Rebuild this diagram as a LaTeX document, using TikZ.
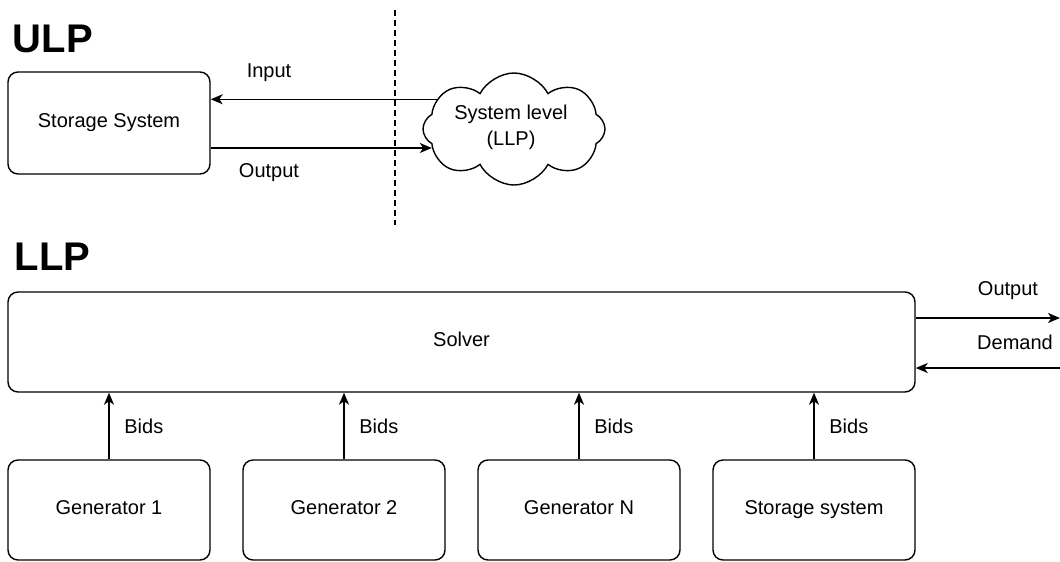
\documentclass[tikz,border=0pt]{standalone}
\usepackage{fontspec}
\setmainfont{Liberation Sans}
\usetikzlibrary{shapes.symbols,arrows.meta}
\begin{document}
\begin{tikzpicture}[x=0.75pt,y=-0.75pt,
  font=\fontsize{15pt}{19.5pt}\selectfont,
  line width=1.05pt,
  box/.style={draw, rounded corners=7.5pt, minimum width=151.5pt, minimum height=75pt,
              inner sep=0pt, text height=0.72em, text depth=0pt},
  arr/.style={draw, -{Stealth[length=9pt,width=7.5pt,inset=2.5pt]}},
  title/.style={font=\fontsize{30pt}{36pt}\selectfont\bfseries, anchor=base west, inner sep=0pt},
  lbl/.style={inner sep=0pt}
]
\useasboundingbox (0,0) rectangle (1060,561);

% upper level
\node[title] (ulp) at (12,52) {ULP};
\node[box, minimum height=76.5pt] (ss) at (109,123) {Storage System};
\node[cloud, draw, cloud puffs=8, cloud puff arc=125, aspect=1.6,
      minimum width=136.5pt, minimum height=84pt, inner sep=0pt]
      (sys) at (514,129) {};
\node[lbl, align=center] (systxt) at (511,127) {System level\\(LLP)};
\draw[arr] (sys.159) -- (sys.159 -| ss.east);
\draw[arr] (ss.east |- sys.193) -- (sys.193);
\node[lbl] (inlbl) at (269,73) {Input};
\node[lbl] (outlbl) at (269,173) {Output};
\coordinate (dtop) at (395,10);
\coordinate (dbot) at (395,225);
\draw[dashed, dash pattern=on 4.5pt off 3pt] (dtop) -- (dbot);

% lower level
\node[title] (llp) at (14,270) {LLP};
\node[box, minimum width=680.25pt] (solver) at (461.5,342) {Solver};
\coordinate (outend) at (1060,318);
\coordinate (demstart) at (1060,368);
\draw[arr] (solver.east |- outend) -- (outend);
\draw[arr] (demstart) -- (solver.east |- demstart);
\node[lbl] (outr) at (1008,291) {Output};
\node[lbl] (demr) at (1015,342) {Demand};

\node[box] (g1) at (109,510) {Generator 1};
\node[box] (g2) at (344,510) {Generator 2};
\node[box] (gn) at (579,510) {Generator N};
\node[box] (st) at (814,510) {Storage system};

\foreach \g in {g1,g2,gn,st}{
  \draw[arr] (\g.north) -- (\g.north |- solver.south)
    node[midway, right, inner sep=0pt, xshift=11pt] {Bids};
}
\end{tikzpicture}
\end{document}
